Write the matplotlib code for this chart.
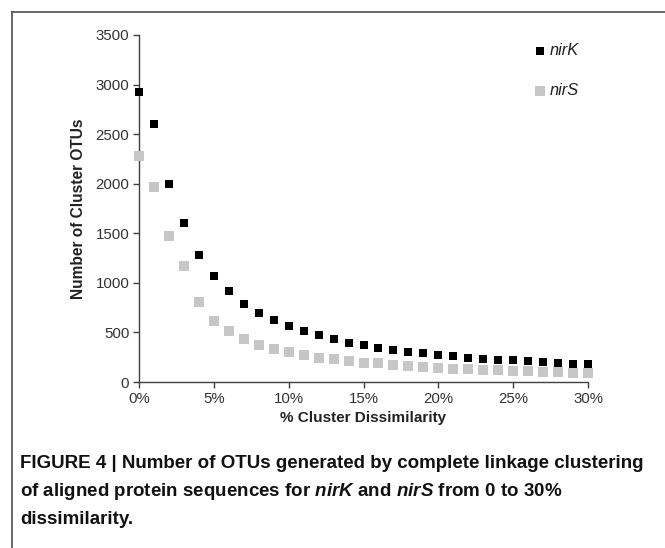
import matplotlib
matplotlib.use("Agg")
import matplotlib.pyplot as plt
from matplotlib import font_manager
from matplotlib.ticker import FuncFormatter

# ---- data ----
dissimilarity = list(range(0, 31))
nirK = [2930, 2600, 2000, 1600, 1280, 1070, 915, 790, 700, 625, 565, 515, 470, 435,
        397, 370, 345, 325, 305, 290, 272, 262, 245, 235, 225, 218, 208, 198, 191, 183, 180]
nirS = [2275, 1970, 1475, 1170, 810, 620, 510, 430, 370, 330, 300, 270, 245, 232,
        215, 195, 188, 168, 161, 151, 141, 134, 131, 124, 121, 114, 111, 104, 98, 94, 88]
x_ticks = [0, 5, 10, 15, 20, 25, 30]
y_ticks = [0, 500, 1000, 1500, 2000, 2500, 3000, 3500]
series_names = ["nirK", "nirS"]
caption_lines = [
    r"FIGURE 4 | Number of OTUs generated by complete linkage clustering",
    r"of aligned protein sequences for $\mathbfit{nirK}$ and $\mathbfit{nirS}$ from 0 to 30%",
    r"dissimilarity.",
]

installed = {f.name for f in font_manager.fontManager.ttflist}
base = "Liberation Sans" if "Liberation Sans" in installed else "DejaVu Sans"
cap_font = "Liberation Sans Narrow" if "Liberation Sans Narrow" in installed else base
plt.rcParams["font.family"] = [base, "DejaVu Sans"]
plt.rcParams["mathtext.fontset"] = "custom"
plt.rcParams["mathtext.bfit"] = cap_font + ":bold:italic"
plt.rcParams["mathtext.rm"] = cap_font
plt.rcParams["mathtext.bf"] = cap_font + ":bold"

W, H = 665, 548
fig = plt.figure(figsize=(W / 100, H / 100), dpi=100)
fig.patch.set_facecolor("white")

# page frame (left and top border)
fig.add_artist(plt.Line2D([12 / W, 12 / W], [0, 1 - 12 / H], color="#5a5a5a", lw=1.3,
                          transform=fig.transFigure))
fig.add_artist(plt.Line2D([12 / W, 1], [1 - 12 / H, 1 - 12 / H], color="#5a5a5a", lw=1.3,
                          transform=fig.transFigure))

ax = fig.add_axes([139 / W, (H - 382) / H, 449 / W, 347 / H])
ax.scatter(dissimilarity, nirS, marker="s", s=42, color="#c6c6c6", linewidths=0,
           clip_on=False, zorder=3, label=series_names[1])
ax.scatter(dissimilarity, nirK, marker="s", s=34, color="#000000", linewidths=0,
           clip_on=False, zorder=4, label=series_names[0])

ax.set_xlim(0, 30)
ax.set_ylim(0, 3500)
ax.set_xticks(x_ticks)
ax.set_yticks(y_ticks)
ax.xaxis.set_major_formatter(FuncFormatter(lambda v, p: f"{int(v)}%"))
for s in ["top", "right"]:
    ax.spines[s].set_visible(False)
for s in ["left", "bottom"]:
    ax.spines[s].set_color("#404040")
    ax.spines[s].set_linewidth(1.0)
ax.tick_params(direction="out", length=4, width=1.0, color="#404040",
               labelsize=10.8, labelcolor="#333333", pad=3)
ax.set_xlabel("% Cluster Dissimilarity", fontsize=11, fontweight="bold", color="#222222",
              labelpad=4)
ax.set_ylabel("Number of Cluster OTUs", fontsize=11.2, fontweight="bold", color="#222222",
              labelpad=7)

h, l = ax.get_legend_handles_labels()
leg = ax.legend(h[::-1], l[::-1], loc="upper left", bbox_to_anchor=(535 / W, 1 - 43 / H),
                bbox_transform=fig.transFigure, frameon=False, handlelength=0.55,
                handletextpad=0.35, labelspacing=1.55, prop={"style": "italic", "size": 11.8},
                borderaxespad=0, borderpad=0)
for t in leg.get_texts():
    t.set_color("#222222")

for i, line in enumerate(caption_lines):
    fig.text(20 / W, 1 - (463 + 28 * i) / H, line, fontsize=13.5, fontweight="bold",
             family=[cap_font, "DejaVu Sans"], va="center", ha="left", color="#111111")

fig.savefig("out.png", dpi=100, facecolor="white")
